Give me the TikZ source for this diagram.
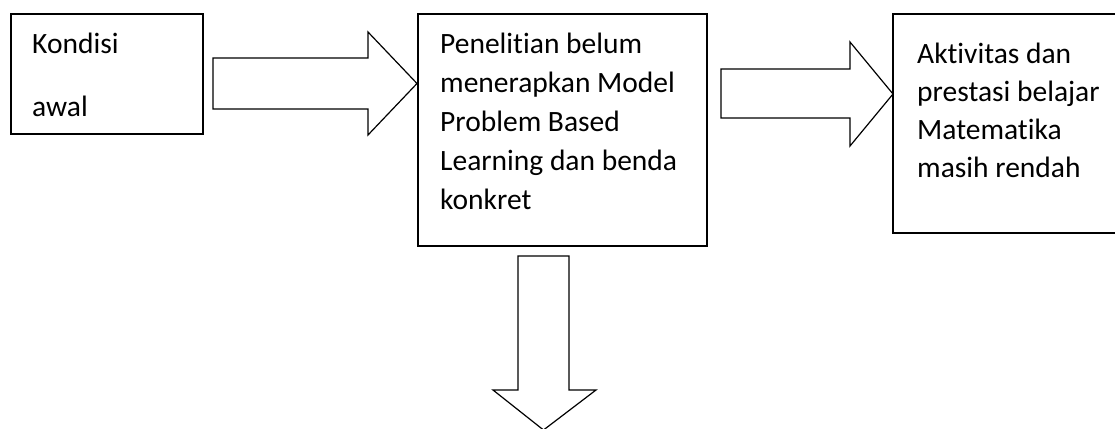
\documentclass[tikz,border=0pt]{standalone}
\usepackage{fontspec}
\setmainfont{Carlito}[Ligatures={NoCommon}]
\begin{document}
\begin{tikzpicture}[x=1pt,y=-1pt,
  box/.style={draw,line width=1.4pt,rectangle,inner sep=0pt},
  blockarrow/.style={draw,line width=1.2pt,line join=miter,fill=white},
  txt/.style={anchor=base west,inner sep=0pt,font=\fontsize{29.5}{39}\selectfont}]
\useasboundingbox (0,0) rectangle (1115,428);
\clip (0,0) rectangle (1115,428);
% boxes
\draw[box] (11,14) rectangle (203,134);
\draw[box] (418,14) rectangle (707,246);
\draw[box] (893,14) rectangle (1125,233);
% texts
\node[txt] (t1a) at (32,53) {Kondisi};
\node[txt] (t1b) at (32,116) {awal};
\node[txt] (t2a) at (440,53) {Penelitian belum};
\node[txt] (t2b) at (440,92.3) {menerapkan Model};
\node[txt] (t2c) at (440,131.6) {Problem Based};
\node[txt] (t2d) at (440,170.9) {Learning dan benda};
\node[txt] (t2e) at (440,209.5) {konkret};
\node[txt] (t3a) at (917,63.3) {Aktivitas dan};
\node[txt] (t3b) at (917,101.6) {prestasi belajar};
\node[txt] (t3c) at (917,139.5) {Matematika};
\node[txt] (t3d) at (917,177) {masih rendah};
% block arrows
\draw[blockarrow] (213,58) -- (368,58) -- (368,32) -- (417,83.5) -- (368,135) -- (368,109) -- (213,109) -- cycle;
\draw[blockarrow] (721,69) -- (850,69) -- (850,42) -- (893,94) -- (850,146) -- (850,118) -- (721,118) -- cycle;
\draw[blockarrow] (518,256) -- (569,256) -- (569,390) -- (596,390) -- (543.5,430) -- (493,390) -- (518,390) -- cycle;
\end{tikzpicture}
\end{document}
